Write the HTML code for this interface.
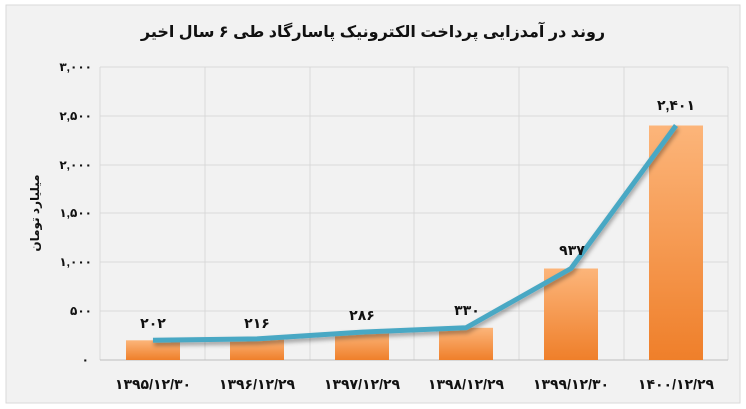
<!DOCTYPE html>
<html><head><meta charset="utf-8"><style>
html,body{margin:0;padding:0;background:#fff}
svg{display:block}
text{font-family:"Liberation Sans","DejaVu Sans",sans-serif;font-weight:bold;fill:#111}
</style></head><body>
<svg width="746" height="409" viewBox="0 0 746 409" xmlns="http://www.w3.org/2000/svg">
<defs>
<linearGradient id="g" x1="0" y1="0" x2="0" y2="1">
<stop offset="0" stop-color="#fcb57a"/><stop offset="1" stop-color="#ef7f2a"/>
</linearGradient>
<filter id="sh" x="-10%" y="-10%" width="120%" height="140%"><feDropShadow dx="1" dy="3" stdDeviation="2" flood-color="#000" flood-opacity="0.35"/></filter>
</defs>
<rect x="6" y="5" width="734" height="398" fill="#f2f2f2" stroke="#d9d9d9"/>
<text x="373" y="37" font-size="16" text-anchor="middle" direction="rtl">روند در آمدزایی پرداخت الکترونیک پاسارگاد طی ۶ سال اخیر</text>
<g stroke="#d9d9d9" stroke-width="1">
<line x1="100" y1="67" x2="728" y2="67"/><line x1="100" y1="116" x2="728" y2="116"/>
<line x1="100" y1="165" x2="728" y2="165"/><line x1="100" y1="213" x2="728" y2="213"/>
<line x1="100" y1="262" x2="728" y2="262"/><line x1="100" y1="311" x2="728" y2="311"/>
<line x1="100" y1="67" x2="100" y2="360"/><line x1="205" y1="67" x2="205" y2="360"/>
<line x1="310" y1="67" x2="310" y2="360"/><line x1="414" y1="67" x2="414" y2="360"/>
<line x1="519" y1="67" x2="519" y2="360"/><line x1="624" y1="67" x2="624" y2="360"/>
<line x1="728" y1="67" x2="728" y2="360"/>
</g>
<line x1="100" y1="360" x2="728" y2="360" stroke="#bfbfbf"/>
<g font-size="12" text-anchor="end">
<text x="92" y="71">۳,۰۰۰</text><text x="92" y="120">۲,۵۰۰</text><text x="92" y="169">۲,۰۰۰</text>
<text x="92" y="217">۱,۵۰۰</text><text x="92" y="266">۱,۰۰۰</text><text x="92" y="315">۵۰۰</text><text x="89" y="364">۰</text>
</g>
<text transform="translate(39,213) rotate(-90)" font-size="12" text-anchor="middle" direction="rtl">میلیارد تومان</text>
<g fill="url(#g)">
<rect x="126" y="340.3" width="54" height="19.7"/>
<rect x="230" y="338.9" width="54" height="21.1"/>
<rect x="335" y="332.1" width="54" height="27.9"/>
<rect x="439" y="327.8" width="54" height="32.2"/>
<rect x="544" y="268.5" width="54" height="91.5"/>
<rect x="649" y="125.5" width="54" height="234.5"/>
</g>
<polyline points="153,340.3 257,338.9 362,332.1 466,327.8 571,268.5 676,125.5" fill="none" stroke="#4aa8c4" stroke-width="5" stroke-linejoin="round" filter="url(#sh)"/>
<g font-size="14" text-anchor="middle">
<text x="153" y="328">۲۰۲</text><text x="257" y="328">۲۱۶</text><text x="362" y="320">۲۸۶</text>
<text x="467" y="315">۳۳۰</text><text x="572" y="255">۹۳۷</text><text x="676" y="110">۲,۴۰۱</text>
</g>
<g font-size="14" text-anchor="middle">
<text x="153" y="389">۱۳۹۵/۱۲/۳۰</text><text x="257" y="389">۱۳۹۶/۱۲/۲۹</text><text x="362" y="389">۱۳۹۷/۱۲/۲۹</text>
<text x="466" y="389">۱۳۹۸/۱۲/۲۹</text><text x="571" y="389">۱۳۹۹/۱۲/۳۰</text><text x="676" y="389">۱۴۰۰/۱۲/۲۹</text>
</g>
</svg>
</body></html>
